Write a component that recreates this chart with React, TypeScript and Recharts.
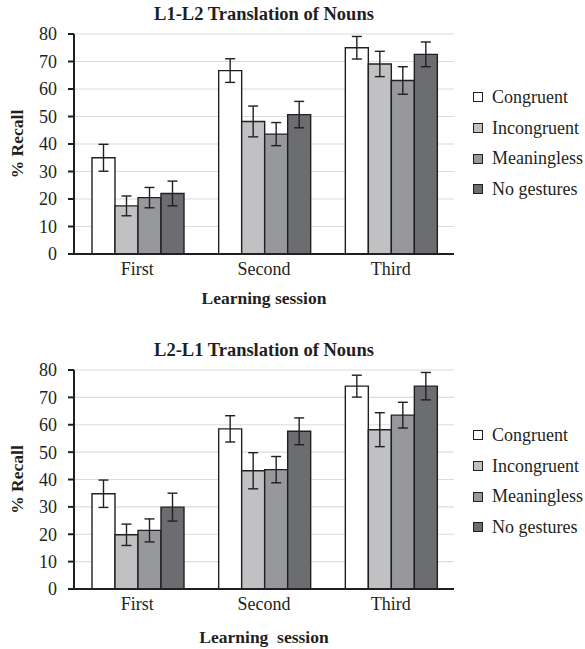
import { BarChart, Bar, XAxis, YAxis, CartesianGrid, ErrorBar, Label } from "recharts";

const sessions = ["First", "Second", "Third"];
const seriesNames = ["Congruent", "Incongruent", "Meaningless", "No gestures"];
const yTicks = [0, 10, 20, 30, 40, 50, 60, 70, 80];

// L1-L2 means and error half-widths
const l1l2Congruent = [35, 66.7, 75];
const l1l2Incongruent = [17.5, 48.2, 69.1];
const l1l2Meaningless = [20.5, 43.6, 63.1];
const l1l2NoGestures = [22, 50.7, 72.6];
const l1l2CongruentErr = [4.9, 4.3, 4.1];
const l1l2IncongruentErr = [3.6, 5.6, 4.6];
const l1l2MeaninglessErr = [3.7, 4.2, 5];
const l1l2NoGesturesErr = [4.5, 4.8, 4.5];

// L2-L1 means and error half-widths
const l2l1Congruent = [34.8, 58.5, 74.1];
const l2l1Incongruent = [19.8, 43.2, 58.2];
const l2l1Meaningless = [21.4, 43.6, 63.5];
const l2l1NoGestures = [29.9, 57.6, 74.1];
const l2l1CongruentErr = [5, 4.8, 4];
const l2l1IncongruentErr = [3.9, 6.6, 6.2];
const l2l1MeaninglessErr = [4.2, 4.8, 4.7];
const l2l1NoGesturesErr = [5.1, 4.9, 5];

const fills = ["#ffffff", "#c0c1c3", "#96989b", "#6b6d71"];
const keys = ["c", "i", "m", "n"];
const FONT = "Liberation Serif, DejaVu Serif, serif";
const INK = "#231f20";

function buildRows(vals: number[][], errs: number[][]) {
  return sessions.map((s, i) => {
    const row: Record<string, string | number> = { session: s };
    keys.forEach((k, j) => {
      row[k] = vals[j][i];
      row[k + "Err"] = errs[j][i];
    });
    return row;
  });
}

const topRows = buildRows(
  [l1l2Congruent, l1l2Incongruent, l1l2Meaningless, l1l2NoGestures],
  [l1l2CongruentErr, l1l2IncongruentErr, l1l2MeaninglessErr, l1l2NoGesturesErr]
);
const bottomRows = buildRows(
  [l2l1Congruent, l2l1Incongruent, l2l1Meaningless, l2l1NoGestures],
  [l2l1CongruentErr, l2l1IncongruentErr, l2l1MeaninglessErr, l2l1NoGesturesErr]
);

function Panel({
  rows,
  title,
  xTitle,
  height,
  top,
  bottom,
  xLabelOffset,
  legendTop,
}: {
  rows: Record<string, string | number>[];
  title: string;
  xTitle: string;
  height: number;
  top: number;
  bottom: number;
  xLabelOffset: number;
  legendTop: number;
}) {
  return (
    <div style={{ position: "relative", width: 585, height }}>
      <div
        style={{
          position: "absolute",
          left: 74,
          width: 380,
          top: top - 30,
          textAlign: "center",
          fontWeight: "bold",
          fontSize: 18.5,
          color: INK,
          fontFamily: FONT,
        }}
      >
        {title}
      </div>
      <BarChart
        width={585}
        height={height}
        data={rows}
        margin={{ top, right: 131, left: 0, bottom }}
        barCategoryGap={18}
        barGap={0}
      >
        <CartesianGrid vertical={false} stroke="#dcdcdc" strokeWidth={1.2} />
        <XAxis
          dataKey="session"
          tickLine={false}
          axisLine={{ stroke: INK, strokeWidth: 2 }}
          tick={{ fontSize: 18, fill: INK, fontFamily: FONT }}
          height={30}
        >
          <Label
            value={xTitle}
            position="bottom"
            offset={xLabelOffset}
            style={{ fontSize: 17.5, fontWeight: "bold", fill: INK, fontFamily: FONT }}
          />
        </XAxis>
        <YAxis
          width={74}
          domain={[0, 80]}
          ticks={yTicks}
          interval={0}
          tickSize={6}
          tickMargin={11}
          tickLine={{ stroke: INK, strokeWidth: 2 }}
          axisLine={{ stroke: INK, strokeWidth: 2 }}
          tick={{ fontSize: 18, fill: INK, fontFamily: FONT }}
        >
          <Label
            value="% Recall"
            position="center"
            angle={-90}
            dx={-20}
            style={{ fontSize: 17.5, fontWeight: "bold", fill: INK, fontFamily: FONT }}
          />
        </YAxis>
        {keys.map((k, j) => (
          <Bar
            key={k}
            dataKey={k}
            name={seriesNames[j]}
            fill={fills[j]}
            stroke={INK}
            strokeWidth={1.4}
            isAnimationActive={false}
          >
            <ErrorBar dataKey={k + "Err"} width={5} stroke={INK} strokeWidth={1.4} />
          </Bar>
        ))}
      </BarChart>
      <div style={{ position: "absolute", left: 473, top: legendTop, fontFamily: FONT }}>
        {seriesNames.map((name, j) => (
          <div
            key={name}
            style={{ display: "flex", alignItems: "center", height: 30.7, whiteSpace: "nowrap" }}
          >
            <span
              style={{
                display: "inline-block",
                width: 8,
                height: 8,
                border: `1px solid ${INK}`,
                background: fills[j],
                marginRight: 9,
              }}
            />
            <span style={{ fontSize: 18, color: INK }}>{name}</span>
          </div>
        ))}
      </div>
    </div>
  );
}

export default function App() {
  return (
    <div
      style={{
        position: "absolute",
        left: 0,
        top: 0,
        width: 585,
        height: 649,
        background: "#fff",
        fontFamily: FONT,
        overflow: "hidden",
      }}
    >
      <Panel
        rows={topRows}
        title="L1-L2 Translation of Nouns"
        xTitle="Learning session"
        height={320}
        top={34}
        bottom={36}
        xLabelOffset={8}
        legendTop={82}
      />
      <Panel
        rows={bottomRows}
        title="L2-L1 Translation of Nouns"
        xTitle={"Learning\u00a0 session"}
        height={329}
        top={50}
        bottom={30}
        xLabelOffset={12}
        legendTop={100}
      />
    </div>
  );
}
